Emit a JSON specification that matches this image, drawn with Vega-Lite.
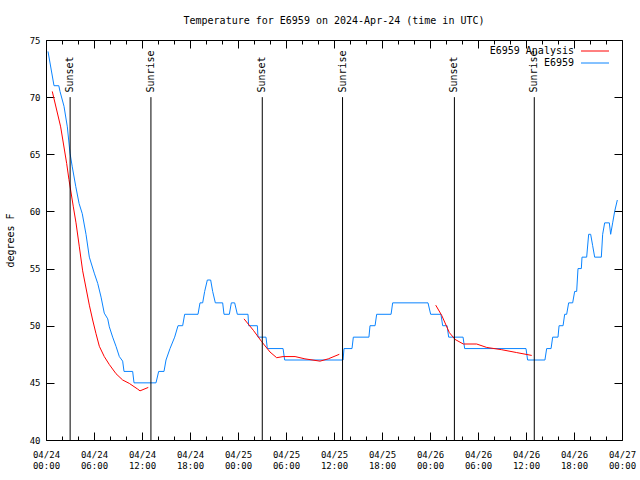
{
  "$schema": "https://vega.github.io/schema/vega-lite/v6.json",
  "width": 576,
  "height": 400,
  "autosize": {"type": "none"},
  "padding": {"left": 46, "top": 40, "right": 18, "bottom": 40},
  "background": "white",
  "title": {"text": "Temperature for E6959 on 2024-Apr-24 (time in UTC)", "font": "DejaVu Sans Mono", "fontSize": 10, "fontWeight": "normal", "color": "#000", "offset": 10, "anchor": "middle"},
  "config": {
    "view": {"stroke": "#000", "strokeWidth": 1},
    "font": "DejaVu Sans Mono",
    "axis": {"domain": false, "grid": false, "labelFont": "DejaVu Sans Mono", "labelColor": "#000", "tickColor": "#000", "tickWidth": 1, "titleFont": "DejaVu Sans Mono", "titleFontWeight": "normal", "titleColor": "#000"}
  },
  "datasets": {
    "temps": [
      {"t": "2024-04-24T00:15Z", "temp": 74, "s": "E6959", "seg": "b"},
      {"t": "2024-04-24T01:00Z", "temp": 71, "s": "E6959", "seg": "b"},
      {"t": "2024-04-24T01:36Z", "temp": 71, "s": "E6959", "seg": "b"},
      {"t": "2024-04-24T01:45Z", "temp": 70.5, "s": "E6959", "seg": "b"},
      {"t": "2024-04-24T02:15Z", "temp": 69.2, "s": "E6959", "seg": "b"},
      {"t": "2024-04-24T02:40Z", "temp": 67.4, "s": "E6959", "seg": "b"},
      {"t": "2024-04-24T03:00Z", "temp": 65.1, "s": "E6959", "seg": "b"},
      {"t": "2024-04-24T03:17Z", "temp": 63.9, "s": "E6959", "seg": "b"},
      {"t": "2024-04-24T03:43Z", "temp": 62.2, "s": "E6959", "seg": "b"},
      {"t": "2024-04-24T04:08Z", "temp": 60.7, "s": "E6959", "seg": "b"},
      {"t": "2024-04-24T04:32Z", "temp": 59.8, "s": "E6959", "seg": "b"},
      {"t": "2024-04-24T05:00Z", "temp": 58, "s": "E6959", "seg": "b"},
      {"t": "2024-04-24T05:25Z", "temp": 56, "s": "E6959", "seg": "b"},
      {"t": "2024-04-24T06:02Z", "temp": 54.6, "s": "E6959", "seg": "b"},
      {"t": "2024-04-24T06:28Z", "temp": 53.7, "s": "E6959", "seg": "b"},
      {"t": "2024-04-24T06:53Z", "temp": 52.5, "s": "E6959", "seg": "b"},
      {"t": "2024-04-24T07:17Z", "temp": 51.1, "s": "E6959", "seg": "b"},
      {"t": "2024-04-24T07:43Z", "temp": 50.6, "s": "E6959", "seg": "b"},
      {"t": "2024-04-24T07:55Z", "temp": 49.9, "s": "E6959", "seg": "b"},
      {"t": "2024-04-24T08:20Z", "temp": 49, "s": "E6959", "seg": "b"},
      {"t": "2024-04-24T08:45Z", "temp": 48.2, "s": "E6959", "seg": "b"},
      {"t": "2024-04-24T09:10Z", "temp": 47.3, "s": "E6959", "seg": "b"},
      {"t": "2024-04-24T09:35Z", "temp": 46.9, "s": "E6959", "seg": "b"},
      {"t": "2024-04-24T09:45Z", "temp": 46, "s": "E6959", "seg": "b"},
      {"t": "2024-04-24T10:50Z", "temp": 46, "s": "E6959", "seg": "b"},
      {"t": "2024-04-24T11:00Z", "temp": 45, "s": "E6959", "seg": "b"},
      {"t": "2024-04-24T13:45Z", "temp": 45, "s": "E6959", "seg": "b"},
      {"t": "2024-04-24T14:05Z", "temp": 46, "s": "E6959", "seg": "b"},
      {"t": "2024-04-24T14:45Z", "temp": 46, "s": "E6959", "seg": "b"},
      {"t": "2024-04-24T15:00Z", "temp": 47, "s": "E6959", "seg": "b"},
      {"t": "2024-04-24T15:30Z", "temp": 48, "s": "E6959", "seg": "b"},
      {"t": "2024-04-24T16:05Z", "temp": 49, "s": "E6959", "seg": "b"},
      {"t": "2024-04-24T16:30Z", "temp": 50, "s": "E6959", "seg": "b"},
      {"t": "2024-04-24T17:05Z", "temp": 50, "s": "E6959", "seg": "b"},
      {"t": "2024-04-24T17:20Z", "temp": 51, "s": "E6959", "seg": "b"},
      {"t": "2024-04-24T19:00Z", "temp": 51, "s": "E6959", "seg": "b"},
      {"t": "2024-04-24T19:15Z", "temp": 52, "s": "E6959", "seg": "b"},
      {"t": "2024-04-24T19:35Z", "temp": 52, "s": "E6959", "seg": "b"},
      {"t": "2024-04-24T19:50Z", "temp": 53, "s": "E6959", "seg": "b"},
      {"t": "2024-04-24T20:10Z", "temp": 54, "s": "E6959", "seg": "b"},
      {"t": "2024-04-24T20:35Z", "temp": 54, "s": "E6959", "seg": "b"},
      {"t": "2024-04-24T20:50Z", "temp": 53, "s": "E6959", "seg": "b"},
      {"t": "2024-04-24T21:10Z", "temp": 52, "s": "E6959", "seg": "b"},
      {"t": "2024-04-24T22:05Z", "temp": 52, "s": "E6959", "seg": "b"},
      {"t": "2024-04-24T22:15Z", "temp": 51, "s": "E6959", "seg": "b"},
      {"t": "2024-04-24T22:55Z", "temp": 51, "s": "E6959", "seg": "b"},
      {"t": "2024-04-24T23:10Z", "temp": 52, "s": "E6959", "seg": "b"},
      {"t": "2024-04-24T23:35Z", "temp": 52, "s": "E6959", "seg": "b"},
      {"t": "2024-04-24T23:55Z", "temp": 51, "s": "E6959", "seg": "b"},
      {"t": "2024-04-25T01:15Z", "temp": 51, "s": "E6959", "seg": "b"},
      {"t": "2024-04-25T01:20Z", "temp": 50, "s": "E6959", "seg": "b"},
      {"t": "2024-04-25T02:25Z", "temp": 50, "s": "E6959", "seg": "b"},
      {"t": "2024-04-25T02:30Z", "temp": 49, "s": "E6959", "seg": "b"},
      {"t": "2024-04-25T03:30Z", "temp": 49, "s": "E6959", "seg": "b"},
      {"t": "2024-04-25T03:40Z", "temp": 48, "s": "E6959", "seg": "b"},
      {"t": "2024-04-25T05:38Z", "temp": 48, "s": "E6959", "seg": "b"},
      {"t": "2024-04-25T05:50Z", "temp": 47, "s": "E6959", "seg": "b"},
      {"t": "2024-04-25T13:08Z", "temp": 47, "s": "E6959", "seg": "b"},
      {"t": "2024-04-25T13:15Z", "temp": 48, "s": "E6959", "seg": "b"},
      {"t": "2024-04-25T14:15Z", "temp": 48, "s": "E6959", "seg": "b"},
      {"t": "2024-04-25T14:25Z", "temp": 49, "s": "E6959", "seg": "b"},
      {"t": "2024-04-25T16:22Z", "temp": 49, "s": "E6959", "seg": "b"},
      {"t": "2024-04-25T16:30Z", "temp": 50, "s": "E6959", "seg": "b"},
      {"t": "2024-04-25T17:08Z", "temp": 50, "s": "E6959", "seg": "b"},
      {"t": "2024-04-25T17:20Z", "temp": 51, "s": "E6959", "seg": "b"},
      {"t": "2024-04-25T19:08Z", "temp": 51, "s": "E6959", "seg": "b"},
      {"t": "2024-04-25T19:20Z", "temp": 52, "s": "E6959", "seg": "b"},
      {"t": "2024-04-25T23:45Z", "temp": 52, "s": "E6959", "seg": "b"},
      {"t": "2024-04-26T00:05Z", "temp": 51, "s": "E6959", "seg": "b"},
      {"t": "2024-04-26T01:22Z", "temp": 51, "s": "E6959", "seg": "b"},
      {"t": "2024-04-26T01:35Z", "temp": 50, "s": "E6959", "seg": "b"},
      {"t": "2024-04-26T02:08Z", "temp": 50, "s": "E6959", "seg": "b"},
      {"t": "2024-04-26T02:20Z", "temp": 49, "s": "E6959", "seg": "b"},
      {"t": "2024-04-26T04:08Z", "temp": 49, "s": "E6959", "seg": "b"},
      {"t": "2024-04-26T04:20Z", "temp": 48, "s": "E6959", "seg": "b"},
      {"t": "2024-04-26T12:00Z", "temp": 48, "s": "E6959", "seg": "b"},
      {"t": "2024-04-26T12:12Z", "temp": 47, "s": "E6959", "seg": "b"},
      {"t": "2024-04-26T14:22Z", "temp": 47, "s": "E6959", "seg": "b"},
      {"t": "2024-04-26T14:35Z", "temp": 48, "s": "E6959", "seg": "b"},
      {"t": "2024-04-26T15:08Z", "temp": 48, "s": "E6959", "seg": "b"},
      {"t": "2024-04-26T15:20Z", "temp": 49, "s": "E6959", "seg": "b"},
      {"t": "2024-04-26T16:00Z", "temp": 49, "s": "E6959", "seg": "b"},
      {"t": "2024-04-26T16:08Z", "temp": 50, "s": "E6959", "seg": "b"},
      {"t": "2024-04-26T16:38Z", "temp": 50, "s": "E6959", "seg": "b"},
      {"t": "2024-04-26T16:50Z", "temp": 51, "s": "E6959", "seg": "b"},
      {"t": "2024-04-26T17:05Z", "temp": 51, "s": "E6959", "seg": "b"},
      {"t": "2024-04-26T17:20Z", "temp": 52, "s": "E6959", "seg": "b"},
      {"t": "2024-04-26T17:50Z", "temp": 52, "s": "E6959", "seg": "b"},
      {"t": "2024-04-26T18:05Z", "temp": 53, "s": "E6959", "seg": "b"},
      {"t": "2024-04-26T18:20Z", "temp": 53, "s": "E6959", "seg": "b"},
      {"t": "2024-04-26T18:30Z", "temp": 55, "s": "E6959", "seg": "b"},
      {"t": "2024-04-26T18:55Z", "temp": 55, "s": "E6959", "seg": "b"},
      {"t": "2024-04-26T19:00Z", "temp": 56, "s": "E6959", "seg": "b"},
      {"t": "2024-04-26T19:35Z", "temp": 56, "s": "E6959", "seg": "b"},
      {"t": "2024-04-26T19:50Z", "temp": 58, "s": "E6959", "seg": "b"},
      {"t": "2024-04-26T20:05Z", "temp": 58, "s": "E6959", "seg": "b"},
      {"t": "2024-04-26T20:20Z", "temp": 57, "s": "E6959", "seg": "b"},
      {"t": "2024-04-26T20:35Z", "temp": 56, "s": "E6959", "seg": "b"},
      {"t": "2024-04-26T21:25Z", "temp": 56, "s": "E6959", "seg": "b"},
      {"t": "2024-04-26T21:35Z", "temp": 58, "s": "E6959", "seg": "b"},
      {"t": "2024-04-26T21:50Z", "temp": 59, "s": "E6959", "seg": "b"},
      {"t": "2024-04-26T22:25Z", "temp": 59, "s": "E6959", "seg": "b"},
      {"t": "2024-04-26T22:35Z", "temp": 58, "s": "E6959", "seg": "b"},
      {"t": "2024-04-26T22:50Z", "temp": 59, "s": "E6959", "seg": "b"},
      {"t": "2024-04-26T23:05Z", "temp": 60, "s": "E6959", "seg": "b"},
      {"t": "2024-04-26T23:25Z", "temp": 61, "s": "E6959", "seg": "b"},

      {"t": "2024-04-24T00:47Z", "temp": 70.5, "s": "E6959 Analysis", "seg": "a1"},
      {"t": "2024-04-24T01:50Z", "temp": 67.4, "s": "E6959 Analysis", "seg": "a1"},
      {"t": "2024-04-24T02:35Z", "temp": 64.2, "s": "E6959 Analysis", "seg": "a1"},
      {"t": "2024-04-24T02:52Z", "temp": 62.8, "s": "E6959 Analysis", "seg": "a1"},
      {"t": "2024-04-24T03:25Z", "temp": 60.4, "s": "E6959 Analysis", "seg": "a1"},
      {"t": "2024-04-24T03:45Z", "temp": 59.0, "s": "E6959 Analysis", "seg": "a1"},
      {"t": "2024-04-24T04:10Z", "temp": 56.9, "s": "E6959 Analysis", "seg": "a1"},
      {"t": "2024-04-24T04:35Z", "temp": 54.8, "s": "E6959 Analysis", "seg": "a1"},
      {"t": "2024-04-24T05:00Z", "temp": 53.3, "s": "E6959 Analysis", "seg": "a1"},
      {"t": "2024-04-24T05:25Z", "temp": 51.8, "s": "E6959 Analysis", "seg": "a1"},
      {"t": "2024-04-24T05:50Z", "temp": 50.5, "s": "E6959 Analysis", "seg": "a1"},
      {"t": "2024-04-24T06:15Z", "temp": 49.3, "s": "E6959 Analysis", "seg": "a1"},
      {"t": "2024-04-24T06:40Z", "temp": 48.2, "s": "E6959 Analysis", "seg": "a1"},
      {"t": "2024-04-24T07:17Z", "temp": 47.3, "s": "E6959 Analysis", "seg": "a1"},
      {"t": "2024-04-24T07:55Z", "temp": 46.6, "s": "E6959 Analysis", "seg": "a1"},
      {"t": "2024-04-24T08:45Z", "temp": 45.8, "s": "E6959 Analysis", "seg": "a1"},
      {"t": "2024-04-24T09:35Z", "temp": 45.25, "s": "E6959 Analysis", "seg": "a1"},
      {"t": "2024-04-24T10:25Z", "temp": 44.95, "s": "E6959 Analysis", "seg": "a1"},
      {"t": "2024-04-24T11:28Z", "temp": 44.45, "s": "E6959 Analysis", "seg": "a1"},
      {"t": "2024-04-24T11:45Z", "temp": 44.3, "s": "E6959 Analysis", "seg": "a1"},
      {"t": "2024-04-24T12:47Z", "temp": 44.6, "s": "E6959 Analysis", "seg": "a1"},

      {"t": "2024-04-25T00:45Z", "temp": 50.6, "s": "E6959 Analysis", "seg": "a2"},
      {"t": "2024-04-25T01:55Z", "temp": 49.6, "s": "E6959 Analysis", "seg": "a2"},
      {"t": "2024-04-25T02:58Z", "temp": 48.6, "s": "E6959 Analysis", "seg": "a2"},
      {"t": "2024-04-25T04:00Z", "temp": 47.7, "s": "E6959 Analysis", "seg": "a2"},
      {"t": "2024-04-25T04:50Z", "temp": 47.2, "s": "E6959 Analysis", "seg": "a2"},
      {"t": "2024-04-25T05:38Z", "temp": 47.3, "s": "E6959 Analysis", "seg": "a2"},
      {"t": "2024-04-25T07:08Z", "temp": 47.3, "s": "E6959 Analysis", "seg": "a2"},
      {"t": "2024-04-25T08:22Z", "temp": 47.1, "s": "E6959 Analysis", "seg": "a2"},
      {"t": "2024-04-25T10:15Z", "temp": 46.9, "s": "E6959 Analysis", "seg": "a2"},
      {"t": "2024-04-25T11:17Z", "temp": 47.1, "s": "E6959 Analysis", "seg": "a2"},
      {"t": "2024-04-25T12:40Z", "temp": 47.5, "s": "E6959 Analysis", "seg": "a2"},

      {"t": "2024-04-26T00:43Z", "temp": 51.8, "s": "E6959 Analysis", "seg": "a3"},
      {"t": "2024-04-26T01:28Z", "temp": 50.9, "s": "E6959 Analysis", "seg": "a3"},
      {"t": "2024-04-26T02:25Z", "temp": 49.4, "s": "E6959 Analysis", "seg": "a3"},
      {"t": "2024-04-26T03:08Z", "temp": 48.8, "s": "E6959 Analysis", "seg": "a3"},
      {"t": "2024-04-26T04:10Z", "temp": 48.4, "s": "E6959 Analysis", "seg": "a3"},
      {"t": "2024-04-26T05:50Z", "temp": 48.4, "s": "E6959 Analysis", "seg": "a3"},
      {"t": "2024-04-26T07:05Z", "temp": 48.1, "s": "E6959 Analysis", "seg": "a3"},
      {"t": "2024-04-26T08:58Z", "temp": 47.9, "s": "E6959 Analysis", "seg": "a3"},
      {"t": "2024-04-26T10:50Z", "temp": 47.65, "s": "E6959 Analysis", "seg": "a3"},
      {"t": "2024-04-26T12:43Z", "temp": 47.4, "s": "E6959 Analysis", "seg": "a3"}
    ],
    "sun": [
      {"t": "2024-04-24T03:01Z", "label": "Sunset"},
      {"t": "2024-04-24T13:07Z", "label": "Sunrise"},
      {"t": "2024-04-25T03:02Z", "label": "Sunset"},
      {"t": "2024-04-25T13:04Z", "label": "Sunrise"},
      {"t": "2024-04-26T03:03Z", "label": "Sunset"},
      {"t": "2024-04-26T13:02Z", "label": "Sunrise"}
    ]
  },
  "resolve": {"axis": {"x": "independent", "y": "independent"}},
  "layer": [
    {
      "data": {"name": "temps"},
      "mark": {"type": "line", "strokeWidth": 1, "interpolate": "linear"},
      "encoding": {
        "x": {"field": "t", "type": "temporal",
          "scale": {"type": "utc", "domain": [1713916800000, 1714176000000], "nice": false},
          "axis": {"orient": "bottom", "title": null, "ticks": false, "values": [1713916800000, 1713938400000, 1713960000000, 1713981600000, 1714003200000, 1714024800000, 1714046400000, 1714068000000, 1714089600000, 1714111200000, 1714132800000, 1714154400000, 1714176000000], "labelExpr": "[utcFormat(datum.value, '%m/%d'), utcFormat(datum.value, '%H:%M')]", "labelFontSize": 9, "labelPadding": 10, "labelLineHeight": 11, "labelOverlap": false, "labelFlush": false, "labelBaseline": "top"}},
        "y": {"field": "temp", "type": "quantitative",
          "scale": {"domain": [40, 75], "nice": false, "zero": false},
          "axis": {"orient": "left", "title": "degrees F", "ticks": false, "values": [40, 45, 50, 55, 60, 65, 70, 75], "labelFontSize": 9, "labelPadding": 6, "titleFontSize": 10, "titlePadding": 14}},
        "color": {"field": "s", "type": "nominal",
          "scale": {"domain": ["E6959 Analysis", "E6959"], "range": ["#ff0000", "#0a84ff"]},
          "legend": {"title": null, "orient": "none", "legendX": 544, "legendY": 6, "symbolType": "M -4 0 L 4 0", "symbolSize": 49, "symbolStrokeWidth": 1, "labelAlign": "right", "labelOffset": -26, "labelFont": "DejaVu Sans Mono", "labelFontSize": 10, "labelColor": "#000", "rowPadding": 2}},
        "detail": {"field": "seg", "type": "nominal"}
      }
    },
    {
      "data": {"name": "sun"},
      "mark": {"type": "rule", "color": "#000", "strokeWidth": 1},
      "encoding": {
        "x": {"field": "t", "type": "temporal",
          "scale": {"type": "utc", "domain": [1713916800000, 1714176000000], "nice": false},
          "axis": {"orient": "bottom", "title": null, "labels": false, "offset": -8, "tickSize": 8, "values": [1713916800000, 1713938400000, 1713960000000, 1713981600000, 1714003200000, 1714024800000, 1714046400000, 1714068000000, 1714089600000, 1714111200000, 1714132800000, 1714154400000, 1714176000000]}},
        "y": {"datum": 70, "type": "quantitative", "scale": {"domain": [40, 75], "nice": false, "zero": false},
          "axis": {"orient": "left", "title": null, "labels": false, "offset": -8, "tickSize": 8, "values": [40, 45, 50, 55, 60, 65, 70, 75]}},
        "y2": {"datum": 40}
      }
    },
    {
      "data": {"name": "sun"},
      "mark": {"type": "text", "angle": 270, "align": "left", "baseline": "middle", "font": "DejaVu Sans Mono", "fontSize": 10, "color": "#000"},
      "encoding": {
        "x": {"field": "t", "type": "temporal",
          "scale": {"type": "utc", "domain": [1713916800000, 1714176000000], "nice": false},
          "axis": {"orient": "top", "title": null, "labels": false, "offset": -8, "tickSize": 8, "values": [1713916800000, 1713938400000, 1713960000000, 1713981600000, 1714003200000, 1714024800000, 1714046400000, 1714068000000, 1714089600000, 1714111200000, 1714132800000, 1714154400000, 1714176000000]}},
        "y": {"datum": 70.4, "type": "quantitative", "scale": {"domain": [40, 75], "nice": false, "zero": false},
          "axis": {"orient": "right", "title": null, "labels": false, "offset": -8, "tickSize": 8, "values": [40, 45, 50, 55, 60, 65, 70, 75]}},
        "text": {"field": "label"}
      }
    },
    {
      "data": {"name": "sun"},
      "mark": {"type": "rule", "color": "#000", "strokeWidth": 1, "opacity": 0},
      "encoding": {
        "x": {"field": "t", "type": "temporal",
          "scale": {"type": "utc", "domain": [1713916800000, 1714176000000], "nice": false},
          "axis": {"orient": "bottom", "title": null, "labels": false, "offset": -4, "tickSize": 4, "values": [1713924000000, 1713931200000, 1713945600000, 1713952800000, 1713967200000, 1713974400000, 1713988800000, 1713996000000, 1714010400000, 1714017600000, 1714032000000, 1714039200000, 1714053600000, 1714060800000, 1714075200000, 1714082400000, 1714096800000, 1714104000000, 1714118400000, 1714125600000, 1714140000000, 1714147200000, 1714161600000, 1714168800000]}},
        "y": {"datum": 70, "type": "quantitative", "scale": {"domain": [40, 75], "nice": false, "zero": false}, "axis": null},
        "y2": {"datum": 40}
      }
    },
    {
      "data": {"name": "sun"},
      "mark": {"type": "rule", "color": "#000", "strokeWidth": 1, "opacity": 0},
      "encoding": {
        "x": {"field": "t", "type": "temporal",
          "scale": {"type": "utc", "domain": [1713916800000, 1714176000000], "nice": false},
          "axis": {"orient": "top", "title": null, "labels": false, "offset": -4, "tickSize": 4, "values": [1713924000000, 1713931200000, 1713945600000, 1713952800000, 1713967200000, 1713974400000, 1713988800000, 1713996000000, 1714010400000, 1714017600000, 1714032000000, 1714039200000, 1714053600000, 1714060800000, 1714075200000, 1714082400000, 1714096800000, 1714104000000, 1714118400000, 1714125600000, 1714140000000, 1714147200000, 1714161600000, 1714168800000]}},
        "y": {"datum": 70, "type": "quantitative", "scale": {"domain": [40, 75], "nice": false, "zero": false}, "axis": null},
        "y2": {"datum": 40}
      }
    }
  ]
}
